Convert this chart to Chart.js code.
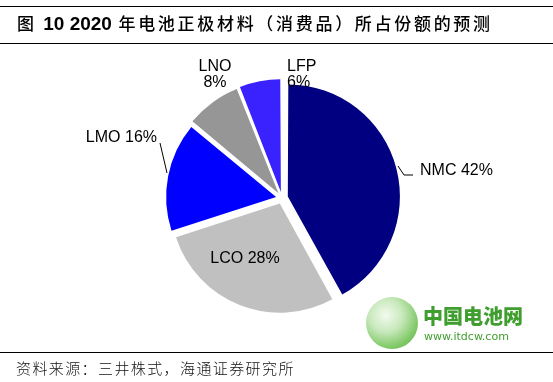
<!DOCTYPE html>
<html>
<head>
<meta charset="utf-8">
<script src="https://cdn.jsdelivr.net/npm/chart.js@4.4.1/dist/chart.umd.min.js"></script>
<style>
  html, body { margin: 0; padding: 0; background: #fff; }
  #wrap { position: relative; width: 553px; height: 382px; overflow: hidden; }
  #c { position: absolute; left: 0; top: 0; }
  .hline { position: absolute; left: 0; width: 553px; height: 1px; background: #000; }
  #title { position: absolute; left: 17px; top: 10px; font-size: 17px; line-height: 26px; white-space: nowrap;
           font-family: "Noto Sans CJK SC", "Liberation Sans", sans-serif; font-weight: 500; color: #000; letter-spacing: 2.7px; }
  #title b { font-family: "Liberation Sans", Arial, sans-serif; font-weight: bold; font-size: 19px; letter-spacing: 0; }
  #source { position: absolute; left: 16px; top: 358px; font-size: 15px; line-height: 20px; white-space: nowrap;
            font-family: "Noto Sans CJK SC", sans-serif; font-weight: 300; letter-spacing: 1.4px; color: #111; }
  #logo { position: absolute; left: 366px; top: 297px; width: 52px; height: 52px; border-radius: 50%;
          background: radial-gradient(circle at 38% 35%, #f2faee 0%, #c9e9bd 35%, #7fc866 70%, #5aae44 100%); }
  #logo1 { position: absolute; left: 423px; top: 304px; font-family: "Noto Sans CJK SC", sans-serif; font-weight: 900;
           font-size: 20px; line-height: 24px; color: #3f9e2e; letter-spacing: 0px; }
  #logo2 { position: absolute; left: 424px; top: 330px; font-family: "DejaVu Sans", sans-serif;
           font-size: 11px; line-height: 14px; color: #3f9e2e; }
</style>
</head>
<body>
<div id="wrap">
  <canvas id="c" width="553" height="382"></canvas>
  <div class="hline" style="top:6px"></div>
  <div id="title">图 <b>10 2020</b> 年电池正极材料（消费品）所占份额的预测</div>
  <div class="hline" style="top:43px"></div>
  <div id="logo"></div>
  <div id="logo1">中国电池网</div>
  <div id="logo2">www.itdcw.com</div>
  <div class="hline" style="top:352px"></div>
  <div id="source">资料来源：三井株式，海通证券研究所</div>
</div>
<script>
// ---- data ----
const categories = ["NMC", "LCO", "LMO", "LNO", "LFP"];
const shares = [42, 28, 16, 8, 6];
const labelTexts = ["NMC 42%", "LCO 28%", "LMO 16%", "LNO\n8%", "LFP\n6%"];

// ---- styles ----
const sliceColors = ["#000080", "#C0C0C0", "#0000FF", "#969696", "#3A22FF"];
// label layout relative to pie centre (px): text anchor, alignment, optional leader polyline
const labelLayout = [
  { dx: 138, dy: -27, align: "left",   leader: [[116, -32], [122, -23], [131, -23]] },
  { dx: -37, dy: 61,  align: "center", leader: null },
  { dx: -125, dy: -60, align: "right", leader: [[-115, -25], [-122, -55]] },
  { dx: -67, dy: -131, align: "center", leader: null },
  { dx: 5,   dy: -131, align: "left",   leader: null }
];

const labelPlugin = {
  id: "sliceLabels",
  afterDatasetsDraw(chart) {
    const ctx = chart.ctx;
    const meta = chart.getDatasetMeta(0);
    ctx.save();
    ctx.font = "16px 'Liberation Sans', Arial, sans-serif";
    ctx.fillStyle = "#000";
    ctx.strokeStyle = "#000";
    ctx.lineWidth = 1;
    meta.data.forEach((arc, i) => {
      const { x, y } = arc.getProps(["x", "y"], true);
      const L = labelLayout[i];
      if (L.leader) {
        ctx.beginPath();
        L.leader.forEach((p, k) => {
          if (k === 0) ctx.moveTo(x + p[0], y + p[1]);
          else ctx.lineTo(x + p[0], y + p[1]);
        });
        ctx.stroke();
      }
      const lines = labelTexts[i].split("\n");
      ctx.textAlign = L.align;
      ctx.textBaseline = "middle";
      const lh = 16;
      lines.forEach((t, k) => {
        ctx.fillText(t, x + L.dx, y + L.dy + k * lh);
      });
    });
    ctx.restore();
  }
};

new Chart(document.getElementById("c"), {
  type: "pie",
  data: {
    labels: categories,
    datasets: [{
      data: shares,
      backgroundColor: sliceColors,
      borderWidth: 0,
      offset: 24
    }]
  },
  options: {
    responsive: false,
    animation: false,
    radius: 109,
    layout: { padding: { left: 60, right: 49, top: 90, bottom: 76 } },
    plugins: { legend: { display: false }, tooltip: { enabled: false } }
  },
  plugins: [labelPlugin]
});
</script>
</body>
</html>
